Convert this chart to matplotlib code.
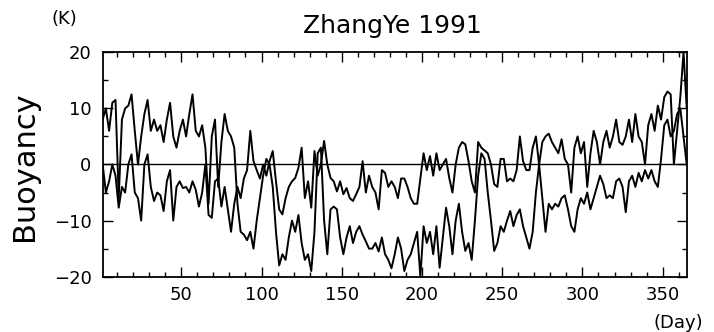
import numpy as np
import matplotlib
matplotlib.use('Agg')
import matplotlib.pyplot as plt
from matplotlib.ticker import MultipleLocator

# daily buoyancy, every 2nd day
days = np.arange(1, 366, 2)

# curve that starts warm, drops in summer, recovers at year end
buoy_a = [
    8, 10, 6, 11, 11.5, -6, 8, 10, 10.5, 12.5,
    6, 0, 5, 9, 11.5, 6, 8, 6, 7, 4,
    8, 11, 5, 3, 6, 8, 5, 9, 12.5, 6,
    5, 7, 3, -7, 5, 8, -4, 4, 9, 6,
    5, 3, -7, -12, -12.5, -13.5, -12, -15, -10, -6,
    -2, 1, 0, -4, -12, -18, -16, -17, -13, -10,
    -12, -9, -14, -17, -16, -19, -12, 2, 3, -10,
    -16, -8, -7.5, -8, -13, -16, -13, -11, -14, -12,
    -11, -12.5, -13.7, -15, -15, -14, -15.5, -13, -16, -17,
    -18.5, -16, -13, -15, -19, -17, -16, -14, -12, -20,
    -11, -14, -12, -16, -11, -18.4, -13, -7.7, -11, -16,
    -10, -7, -12, -15.4, -14, -17, -10, -2, 2, 1,
    -5, -10, -15.4, -14, -11, -12, -10, -8.3, -11, -9,
    -8, -11, -13, -15, -12, -5, 0, -6, -12, -7,
    -8, -7, -7.5, -6, -5.5, -8, -11, -12, -8, -6,
    -7, -5, -8, -6, -4, -2, -3.5, -6, -5.5, -6,
    -3, -2.5, -4, -8.5, -3, -2, -4, -1.5, -3, -1,
    -2.5, -1, -3, -4, 1, 7, 8, 5, 6, 9,
    10, 5, 0,
]

# curve that starts below zero and ends high
buoy_b = [
    0, -5, -3, 0, -2, -7.7, -4, -5, 0, 1.8,
    -5, -6, -10, 0, 1.8, -4, -6.5, -5, -5.5, -8.3,
    -3, -1, -10, -4, -3, -4.2, -4, -5, -3, -4.5,
    -7.5, -5, 0, -9, -9.5, -3, -2.5, -7.5, -4, -8,
    -12, -7, -4, -6, -2.5, -1, 6, 0.6, -1, -2.5,
    0, -2, 0.6, 2.4, -3, -8, -8.9, -6, -4, -3,
    -2.4, -0.6, 3, -6, -3, -7.7, 2.4, -2, 0, 4.2,
    0, -2.4, -3, -4.8, -3, -5.3, -4.2, -6, -6.5, -5.3,
    -4, 0.6, -5, -2, -4, -5, -8, -1, -1.5, -4,
    -3, -4, -6, -2.5, -2.5, -4, -6, -7, -7, -2.5,
    2, -1, 1.5, -2, 2, -1, 0, 1, -2.4, -5,
    0, 3, 4, 3.6, 0.6, -3, -5, 4, 3, 2.5,
    2, 0, -3.5, -4, 1, 1, -3, -2.5, -3, -1,
    5, 0.6, -1, -1, 3, 5, 0, 4, 5, 5.5,
    4, 3, 2, 4.5, 1, 0, -5, 3, 5, 2,
    4, -4, 2, 6, 4, 0, 4, 6, 3, 5,
    8, 4, 3.5, 5, 8, 4, 9, 5, 4, 0,
    7, 9, 6, 10.5, 8, 12, 13, 12.5, 0, 6,
    12, 20, 10,
]

x_ticks = [50, 100, 150, 200, 250, 300, 350]
y_ticks = [-20, -10, 0, 10, 20]

plt.rcParams['font.family'] = ['DejaVu Sans']

fig = plt.figure(figsize=(7.14, 3.32), dpi=100)
ax = fig.add_axes([0.1438, 0.1666, 0.818, 0.6759])

ax.plot(days, buoy_a, color='black', lw=1.4)
ax.plot(days, buoy_b, color='black', lw=1.4)
ax.axhline(0, color='black', lw=1.0)

ax.set_xlim(1, 365)
ax.set_ylim(-20, 20)
ax.set_xticks(x_ticks)
ax.set_yticks(y_ticks)
ax.xaxis.set_minor_locator(MultipleLocator(10))
ax.yaxis.set_minor_locator(MultipleLocator(5))
ax.tick_params(which='both', direction='in', top=True, right=True, width=1.0)
ax.tick_params(which='major', length=7.2, labelsize=13)
ax.tick_params(which='minor', length=3.6)
ax.tick_params(axis='x', pad=7)
ax.tick_params(axis='y', pad=8)
for s in ax.spines.values():
    s.set_linewidth(1.3)

fig.text(0.549, 1 - 26 / 332, 'ZhangYe 1991', ha='center', va='center', fontsize=18)
fig.text(25 / 714, 1 - 166 / 332, 'Buoyancy', rotation=90, ha='center', va='center', fontsize=22)
fig.text(64 / 714, 1 - 19 / 332, '(K)', ha='center', va='center', fontsize=13)
fig.text(703 / 714, 1 - 323 / 332, '(Day)', ha='right', va='center', fontsize=13)

fig.savefig('out.png', dpi=100)
